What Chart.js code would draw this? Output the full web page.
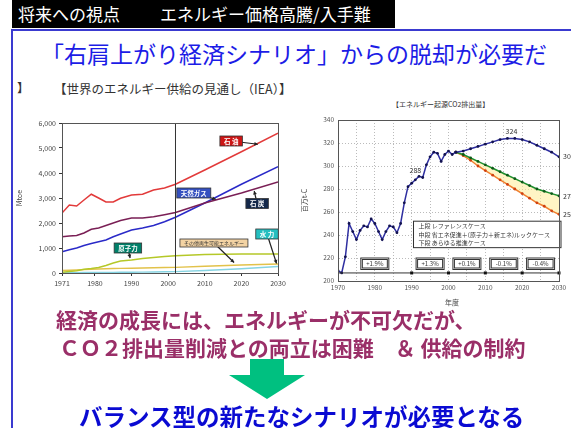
<!DOCTYPE html>
<html>
<head>
<meta charset="utf-8">
<script src="https://cdn.jsdelivr.net/npm/chart.js@4.4.1/dist/chart.umd.min.js"></script>
<style>
  body { margin:0; width:571px; height:428px; overflow:hidden; background:#fff; position:relative;
         font-family:"Noto Sans CJK JP", sans-serif; }
  .abs { position:absolute; white-space:nowrap; }
  #head { left:12px; top:0; width:383px; height:28px; background:#000; color:#fff; font-size:17px; line-height:28px; }
  #topline { left:12px; top:29px; width:559px; height:2px; background:#3a3ad0; }
  #leftline { left:11px; top:29px; width:2px; height:399px; background:#3a3ad0; }
  #title { left:41px; top:36px; font-size:23px; color:#1c1ce6; }
  #supplyTitle { left:54px; top:79px; font-size:12.5px; color:#333; }
  #bracket { left:17px; top:79px; font-size:12px; color:#333; font-weight:bold; }
  #co2Title { left:392px; top:99px; font-size:7px; color:#333; }
  #nendo { left:445px; top:297px; font-size:7px; color:#444; }
  .msg { color:#9a2f68; font-weight:bold; font-size:21px; }
  #msg1 { left:56px; top:304px; }
  #msg2 { left:59px; top:332px; }
  #bottom { left:79px; top:399px; font-size:23.5px; font-weight:bold; color:#0a0ad2; }
  canvas { position:absolute; }
</style>
</head>
<body>
<div class="abs" id="head"><span style="margin-left:6px">将来への視点</span><span style="margin-left:40px">エネルギー価格高騰/入手難</span></div>
<div class="abs" id="topline"></div>
<div class="abs" id="leftline"></div>
<div class="abs" id="title">「右肩上がり経済シナリオ」からの脱却が必要だ</div>
<div class="abs" id="bracket">】</div>
<div class="abs" id="supplyTitle">【世界のエネルギー供給の見通し（IEA）】</div>
<div class="abs" id="co2Title">【エネルギー起源CO2排出量】</div>
<canvas id="supply" width="280" height="205" style="left:15px;top:100px"></canvas>
<canvas id="co2" width="271" height="215" style="left:300px;top:95px"></canvas>
<div class="abs" id="nendo">年度</div>
<div class="abs msg" id="msg1">経済の成長には、エネルギーが不可欠だが、</div>
<div class="abs msg" id="msg2">ＣＯ２排出量削減との両立は困難　＆ 供給の制約</div>
<svg class="abs" style="left:227px;top:357px" width="80" height="44">
  <polygon points="23,2 57,2 57,18 78,18 40,42 2,18 23,18" fill="#00c080"/>
</svg>
<div class="abs" id="bottom">バランス型の新たなシナリオが必要となる</div>

<script>
// world energy supply (Mtoe), IEA outlook
const supplyYears = [1971, 1973, 1975, 1977, 1979, 1981, 1983, 1985, 1987, 1990, 1993, 1996, 1999, 2002, 2010, 2020, 2030];
const oil        = [2400, 2720, 2680, 2920, 3150, 3000, 2840, 2840, 2990, 3120, 3150, 3320, 3400, 3550, 4120, 4850, 5590];
const coal       = [1450, 1480, 1500, 1600, 1750, 1800, 1900, 2000, 2100, 2200, 2200, 2250, 2330, 2420, 2800, 3200, 3640];
const gas        = [850, 930, 1000, 1100, 1180, 1250, 1320, 1450, 1560, 1720, 1800, 1900, 2050, 2230, 2800, 3550, 4250];
const nuclear    = [30, 60, 90, 150, 180, 220, 300, 400, 480, 520, 580, 620, 660, 690, 740, 760, 760];
const hydro      = [100, 110, 120, 135, 150, 160, 170, 180, 185, 190, 200, 210, 220, 225, 270, 320, 365];
const otherRenew = [10, 12, 14, 16, 18, 20, 22, 25, 27, 30, 35, 40, 48, 55, 100, 170, 260];
const baseYear = 2002;
const supplyTicks = [1971, 1980, 1990, 2000, 2010, 2020, 2030];

// Japan energy-origin CO2 (million t-C)
const co2Years = [1970, 1971, 1972, 1973, 1974, 1975, 1976, 1977, 1978, 1979, 1980, 1981, 1982, 1983, 1984, 1985, 1986,
                  1987, 1988, 1989, 1990, 1991, 1992, 1993, 1994, 1995, 1996, 1997, 1998, 1999, 2000, 2001, 2002];
const co2Actual = [209, 207, 221, 250, 243, 236, 244, 248, 247, 254, 250, 243, 236, 243, 248, 247, 242,
                   250, 268, 282, 285, 288, 291, 290, 301, 308, 312, 311, 304, 310, 313, 310, 312];
const projYears    = [2002, 2004, 2006, 2008, 2010, 2012, 2014, 2016, 2018, 2020, 2022, 2024, 2026, 2028, 2030];
const co2Reference = [312, 313, 315, 317, 319, 321, 323, 324, 324, 323, 321, 318, 315, 312, 308];
const co2Middle    = [312, 310, 307, 304, 301, 298, 295, 292, 289, 286, 283, 280, 278, 276, 274];
const co2Lower     = [312, 309, 305, 300, 296, 292, 288, 284, 280, 276, 272, 268, 265, 261, 258];
const caseLabels = ['上段 レファレンスケース', '中段 省エネ促進＋(原子力＋新エネ)ルックケース', '下段 あらゆる推進ケース'];
const ratePeriods = [[1970, 1990], [1990, 2000], [2000, 2010], [2010, 2020], [2020, 2030]];
const rateLabels = ['+1.9%', '+1.3%', '+0.1%', '-0.1%', '-0.4%'];
const noteYear = 1991;

Chart.defaults.font.family = '"Noto Sans CJK JP", "DejaVu Sans", sans-serif';
Chart.defaults.font.size = 7;
Chart.defaults.color = '#444';

const pts = (xs, ys) => xs.map((x, i) => ({x: x, y: ys[i]}));

const frame = {
    id: 'frame',
    afterDraw(chart) {
        const {ctx, chartArea: a} = chart;
        ctx.save();
        ctx.strokeStyle = '#555';
        ctx.lineWidth = 1;
        ctx.strokeRect(Math.round(a.left) + 0.5, Math.round(a.top) + 0.5, Math.round(a.width), Math.round(a.height));
        ctx.restore();
    }
};

// little coloured name tags with arrows, like the source
const supplyTags = [
    {text: '石 油', x: 2017.2, y: 5280, tx: 2024.5, ty: 5150, bg: '#cc1515', fg: '#fff'},
    {text: '天然ガス', x: 2007, y: 3200, tx: 2013, ty: 2950, bg: '#3550c0', fg: '#fff'},
    {text: '石 炭', x: 2024.3, y: 2780, tx: 2023.5, ty: 3280, bg: '#14284a', fg: '#fff'},
    {text: '原子力', x: 1989, y: 1000, tx: 1989.6, ty: 600, bg: '#00806a', fg: '#fff'},
    {text: 'その他再生可能エネルギー', x: 2012.5, y: 1200, tx: 2018, ty: 420, bg: '#f3d3a3', fg: '#333', small: true},
    {text: '水 力', x: 2027, y: 1560, tx: 2029.6, ty: 380, bg: '#25bfc0', fg: '#fff'}
];

const tagPlugin = {
    id: 'tags',
    afterDatasetsDraw(chart) {
        const {ctx, scales: {x, y}} = chart;
        ctx.save();
        supplyTags.forEach(t => {
            const cx = x.getPixelForValue(t.x), cy = y.getPixelForValue(t.y);
            const tx = x.getPixelForValue(t.tx), ty = y.getPixelForValue(t.ty);
            ctx.font = t.small ? '5px "Noto Sans CJK JP"' : 'bold 6.5px "Noto Sans CJK JP"';
            const w = ctx.measureText(t.text).width + 8, h = t.small ? 8 : 10;
            ctx.strokeStyle = '#222';
            ctx.lineWidth = 1.2;
            ctx.beginPath(); ctx.moveTo(cx, cy); ctx.lineTo(tx, ty); ctx.stroke();
            const ang = Math.atan2(ty - cy, tx - cx);
            ctx.fillStyle = '#222';
            ctx.beginPath();
            ctx.moveTo(tx, ty);
            ctx.lineTo(tx - 4 * Math.cos(ang - 0.5), ty - 4 * Math.sin(ang - 0.5));
            ctx.lineTo(tx - 4 * Math.cos(ang + 0.5), ty - 4 * Math.sin(ang + 0.5));
            ctx.closePath(); ctx.fill();
            ctx.fillStyle = t.bg;
            ctx.fillRect(cx - w / 2, cy - h / 2, w, h);
            ctx.lineWidth = 0.8;
            ctx.strokeStyle = '#333';
            ctx.strokeRect(cx - w / 2, cy - h / 2, w, h);
            ctx.fillStyle = t.fg;
            ctx.textAlign = 'center';
            ctx.textBaseline = 'middle';
            ctx.fillText(t.text, cx, cy + 0.5);
        });
        ctx.restore();
    }
};

function supplyLine(label, values, color) {
    return {label: label, data: pts(supplyYears, values), borderColor: color, borderWidth: 1.5, pointRadius: 0, tension: 0};
}

new Chart(document.getElementById('supply'), {
    type: 'line',
    data: {
        datasets: [
            {label: 'base', data: [{x: baseYear, y: 0}, {x: baseYear, y: 6000}], borderColor: '#333', borderWidth: 1, pointRadius: 0},
            supplyLine('石油', oil, '#e23a3a'),
            supplyLine('石炭', coal, '#7a1f55'),
            supplyLine('天然ガス', gas, '#2a2ac8'),
            supplyLine('原子力', nuclear, '#b5c828'),
            supplyLine('水力', hydro, '#e2c24a'),
            supplyLine('その他', otherRenew, '#86d4e2')
        ]
    },
    options: {
        responsive: false,
        animation: false,
        devicePixelRatio: 1,
        layout: {padding: {top: 23, right: 17, left: 0, bottom: 0}},
        plugins: {legend: {display: false}, tooltip: {enabled: false}},
        scales: {
            x: {
                type: 'linear', min: 1971, max: 2030,
                afterBuildTicks: s => { s.ticks = supplyTicks.map(v => ({value: v})); },
                afterFit: s => { s.height = 32; },
                ticks: {callback: v => String(v), maxRotation: 0, autoSkip: false, padding: 3},
                grid: {drawOnChartArea: false, tickLength: 3, color: '#333'},
                border: {color: '#333'}
            },
            y: {
                min: 0, max: 6000,
                afterFit: s => { s.width = 47; },
                ticks: {stepSize: 1000, callback: v => v.toLocaleString('en-US'), padding: 3},
                grid: {drawOnChartArea: false, tickLength: 3, color: '#333'},
                border: {color: '#333'},
                title: {display: true, text: 'Mtoe', padding: 0, font: {size: 7}}
            }
        }
    },
    plugins: [frame, tagPlugin]
});

const co2Extras = {
    id: 'co2Extras',
    afterDatasetsDraw(chart) {
        const {ctx, chartArea: a, scales: {x, y}} = chart;
        ctx.save();
        ctx.font = '6px "Noto Sans CJK JP"';
        ctx.textBaseline = 'middle';

        // period line with growth rate boxes
        const py = y.getPixelForValue(207);
        ctx.strokeStyle = '#333';
        ctx.lineWidth = 1;
        ctx.beginPath(); ctx.moveTo(x.getPixelForValue(1970), py); ctx.lineTo(x.getPixelForValue(2030), py); ctx.stroke();
        ratePeriods.forEach((p, i) => {
            const x1 = x.getPixelForValue(p[1]);
            ctx.fillStyle = '#111';
            ctx.fillRect(x1 - 1.5, py - 1.5, 3, 3);
            const mid = x.getPixelForValue((p[0] + p[1]) / 2);
            const top = y.getPixelForValue(220), bot = y.getPixelForValue(210);
            ctx.fillStyle = '#fff';
            ctx.fillRect(mid - 14, top, 28, bot - top);
            ctx.strokeStyle = '#333';
            ctx.strokeRect(mid - 14, top, 28, bot - top);
            ctx.strokeRect(mid - 12.5, top + 1.5, 25, bot - top - 3);
            ctx.fillStyle = '#333';
            ctx.textAlign = 'center';
            ctx.fillText(rateLabels[i], mid, (top + bot) / 2);
        });

        // case legend box
        const lx = x.getPixelForValue(1990.5), lt = y.getPixelForValue(252), lb = y.getPixelForValue(229);
        ctx.fillStyle = '#fff';
        ctx.fillRect(lx, lt, a.right + 2 - lx, lb - lt);
        ctx.strokeStyle = '#333';
        ctx.strokeRect(lx, lt, a.right + 2 - lx, lb - lt);
        ctx.fillStyle = '#333';
        ctx.textAlign = 'left';
        caseLabels.forEach((t, i) => ctx.fillText(t, lx + 5, lt + 5 + i * 8.5));

        // value notes
        ctx.font = '7px "Noto Sans CJK JP"';
        ctx.textAlign = 'center';
        ctx.fillStyle = '#333';
        const ni = co2Years.indexOf(noteYear);
        ctx.fillText(String(co2Actual[ni]), x.getPixelForValue(noteYear), y.getPixelForValue(co2Actual[ni]) - 9);
        const peak = Math.max(...co2Reference);
        const pk = projYears[co2Reference.indexOf(peak)];
        ctx.fillText(String(peak), x.getPixelForValue(pk) + 4, y.getPixelForValue(peak) - 7);
        ctx.textAlign = 'left';
        [co2Reference, co2Middle, co2Lower].forEach(s => {
            const v = s[s.length - 1];
            ctx.fillText(String(v), a.right + 4, y.getPixelForValue(v));
        });
        ctx.restore();
    }
};

function co2Line(label, xs, ys, line, dot) {
    return {label: label, data: pts(xs, ys), borderColor: line, borderWidth: 1.5,
            pointRadius: 1.4, pointBackgroundColor: dot, pointBorderWidth: 0, tension: 0};
}

const lowerSet = co2Line('下段', projYears, co2Lower, '#f08030', '#d04010');
lowerSet.fill = '-1';
lowerSet.backgroundColor = 'rgba(255, 236, 150, 0.55)';

new Chart(document.getElementById('co2'), {
    type: 'line',
    data: {
        datasets: [
            co2Line('実績', co2Years, co2Actual, '#2e2ea0', '#12124e'),
            co2Line('上段', projYears, co2Reference, '#2e2ea0', '#12124e'),
            co2Line('中段', projYears, co2Middle, '#1f8f2f', '#0d5a18'),
            lowerSet
        ]
    },
    options: {
        responsive: false,
        animation: false,
        devicePixelRatio: 1,
        layout: {padding: {top: 25, right: 12, left: 0, bottom: 0}},
        plugins: {legend: {display: false}, tooltip: {enabled: false}},
        scales: {
            x: {
                type: 'linear', min: 1970, max: 2030,
                afterFit: s => { s.height = 29; },
                ticks: {stepSize: 5, callback: v => (v % 10 === 0 ? String(v) : ''), maxRotation: 0, autoSkip: false, padding: 3, font: {size: 6.5}, color: '#555'},
                grid: {color: '#aaa', lineWidth: 0.8, drawTicks: false},
                border: {color: '#555', dash: [1, 2]}
            },
            y: {
                min: 200, max: 340,
                afterFit: s => { s.width = 38; },
                ticks: {stepSize: 20, padding: 4, font: {size: 6.5}, color: '#555'},
                grid: {color: '#aaa', lineWidth: 0.8, drawTicks: false},
                border: {color: '#555', dash: [1, 2]},
                title: {display: true, text: '百万t-C', padding: 0, font: {size: 7}}
            }
        }
    },
    plugins: [frame, co2Extras]
});
</script>
</body>
</html>
